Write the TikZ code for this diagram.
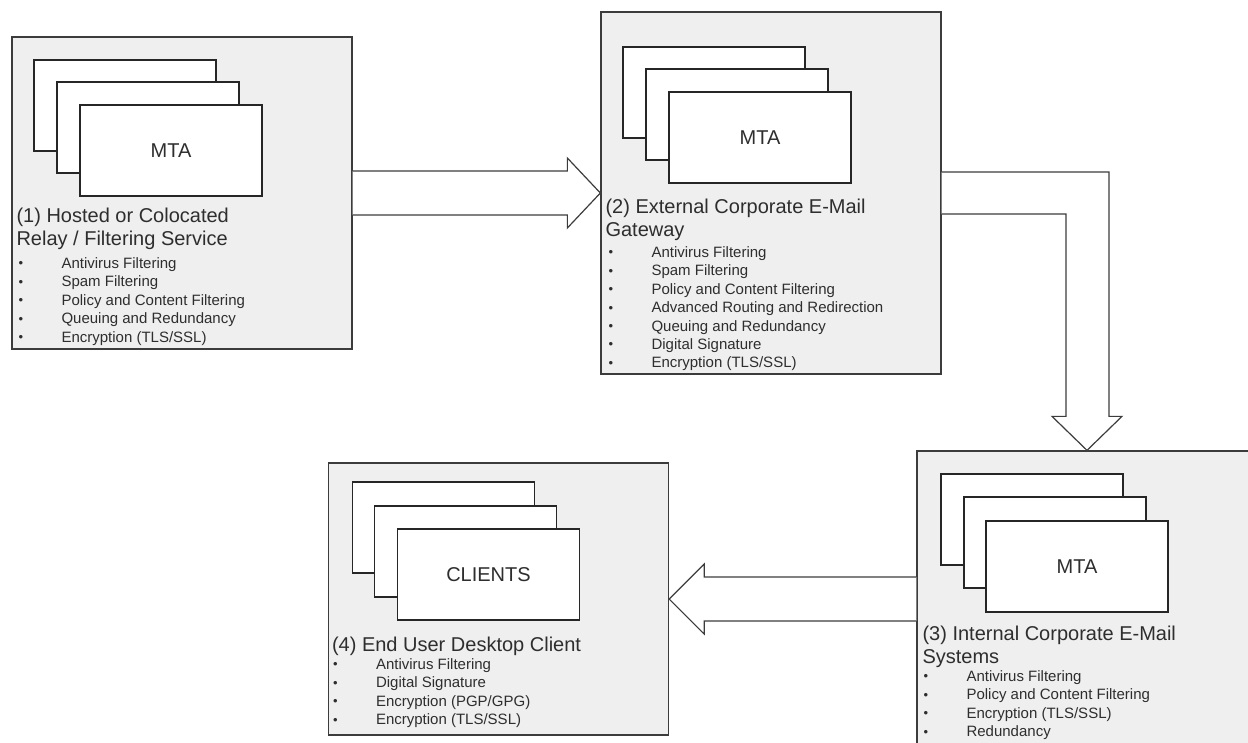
\documentclass[tikz,border=0pt]{standalone}
\usepackage{fontspec}
\setmainfont{Liberation Sans}
\usetikzlibrary{positioning,calc}

\definecolor{panelgray}{HTML}{EFEFEF}
\definecolor{edgegray}{HTML}{3C3C3C}
\definecolor{textgray}{HTML}{2E2E2E}

\newcommand{\dotitem}{\makebox[43pt][l]{\raisebox{0.5pt}{\fontsize{13}{13}\selectfont\textbullet}}}

\begin{document}
\begin{tikzpicture}[x=1pt,y=-1pt,
    panel/.style = {draw=edgegray, line width=1.3pt, fill=panelgray, minimum width=340, inner sep=0},
    server/.style = {draw=black!85, line width=1.3pt, fill=white, minimum width=182, minimum height=91,
                     inner sep=0, text=textgray, font=\fontsize{20}{24}\selectfont},
    title/.style = {inner sep=0, align=left, text=textgray, font=\fontsize{20}{23.5}\selectfont},
    items/.style = {inner sep=0, align=left, text=textgray, font=\fontsize{15}{18.4}\selectfont},
    blockarrow/.style = {draw=edgegray, line width=1.2pt, fill=white, line join=miter}]
    \useasboundingbox (0,0) rectangle (1248,742);
    \clip (0,0) rectangle (1248,742);
    \fill[white] (0,0) rectangle (1248,742);

    % the four stations
    \node [panel, minimum height=312] (b1) at (182,193) {};
    \node [panel, minimum height=362] (b2) at (771,193) {};
    \node [panel, minimum height=296] (b3) at (1087,599) {};
    \node [panel, minimum height=272] (b4) at (498.5,599) {};

    % (1) relay service
    \node [server, below right=23pt and 22pt of b1.north west] (b1a) {};
    \node [server, below right=45pt and 45pt of b1.north west] (b1b) {};
    \node [server, below right=68pt and 68pt of b1.north west] (b1c) {MTA};
    \node [title, below right=171pt and 5pt of b1.north west] (t1) {(1) Hosted or Colocated\\Relay / Filtering Service};
    \node [items, below right=221pt and 7pt of b1.north west] (l1) {\dotitem Antivirus Filtering\\
        \dotitem Spam Filtering\\
        \dotitem Policy and Content Filtering\\
        \dotitem Queuing and Redundancy\\
        \dotitem Encryption (TLS/SSL)};

    % (2) gateway
    \node [server, below right=35pt and 22pt of b2.north west] (b2a) {};
    \node [server, below right=57pt and 45pt of b2.north west] (b2b) {};
    \node [server, below right=80pt and 68pt of b2.north west] (b2c) {MTA};
    \node [title, below right=187pt and 5pt of b2.north west] (t2) {(2) External Corporate E-Mail\\Gateway};
    \node [items, below right=235pt and 8pt of b2.north west] (l2) {\dotitem Antivirus Filtering\\
        \dotitem Spam Filtering\\
        \dotitem Policy and Content Filtering\\
        \dotitem Advanced Routing and Redirection\\
        \dotitem Queuing and Redundancy\\
        \dotitem Digital Signature\\
        \dotitem Encryption (TLS/SSL)};

    % (3) internal systems
    \node [server, below right=23pt and 24pt of b3.north west] (b3a) {};
    \node [server, below right=46pt and 47pt of b3.north west] (b3b) {};
    \node [server, below right=70pt and 69pt of b3.north west] (b3c) {MTA};
    \node [title, below right=175pt and 6pt of b3.north west] (t3) {(3) Internal Corporate E-Mail\\Systems};
    \node [items, below right=220pt and 7pt of b3.north west] (l3) {\dotitem Antivirus Filtering\\
        \dotitem Policy and Content Filtering\\
        \dotitem Encryption (TLS/SSL)\\
        \dotitem Redundancy};

    % (4) desktop clients
    \node [server, below right=19pt and 24pt of b4.north west] (b4a) {};
    \node [server, below right=43pt and 46pt of b4.north west] (b4b) {};
    \node [server, below right=66pt and 69pt of b4.north west] (b4c) {CLIENTS};
    \node [title, below right=174pt and 4pt of b4.north west] (t4) {(4) End User Desktop Client};
    \node [items, below right=196pt and 5pt of b4.north west] (l4) {\dotitem Antivirus Filtering\\
        \dotitem Digital Signature\\
        \dotitem Encryption (PGP/GPG)\\
        \dotitem Encryption (TLS/SSL)};

    % block arrows
    \draw[blockarrow] ($(b1.east)+(0,-22)$) -- ($(b2.west)+(-33,-22)$) -- ($(b2.west)+(-33,-35)$) -- (b2.west)
        -- ($(b2.west)+(-33,35)$) -- ($(b2.west)+(-33,22)$) -- ($(b1.east)+(0,22)$);

    \coordinate (bend) at (b3.north |- b2.east);
    \draw[blockarrow] ($(b2.east)+(0,-21)$) -- ($(bend)+(22,-21)$) -- ($(b3.north)+(22,-34)$) -- ($(b3.north)+(35,-34)$)
        -- (b3.north) -- ($(b3.north)+(-35,-34)$) -- ($(b3.north)+(-21,-34)$) -- ($(bend)+(-21,21)$) -- ($(b2.east)+(0,21)$);

    \draw[blockarrow] ($(b3.west)+(0,-22)$) -- ($(b4.east)+(35,-22)$) -- ($(b4.east)+(35,-35)$) -- (b4.east)
        -- ($(b4.east)+(35,35)$) -- ($(b4.east)+(35,22)$) -- ($(b3.west)+(0,22)$);
\end{tikzpicture}
\end{document}
